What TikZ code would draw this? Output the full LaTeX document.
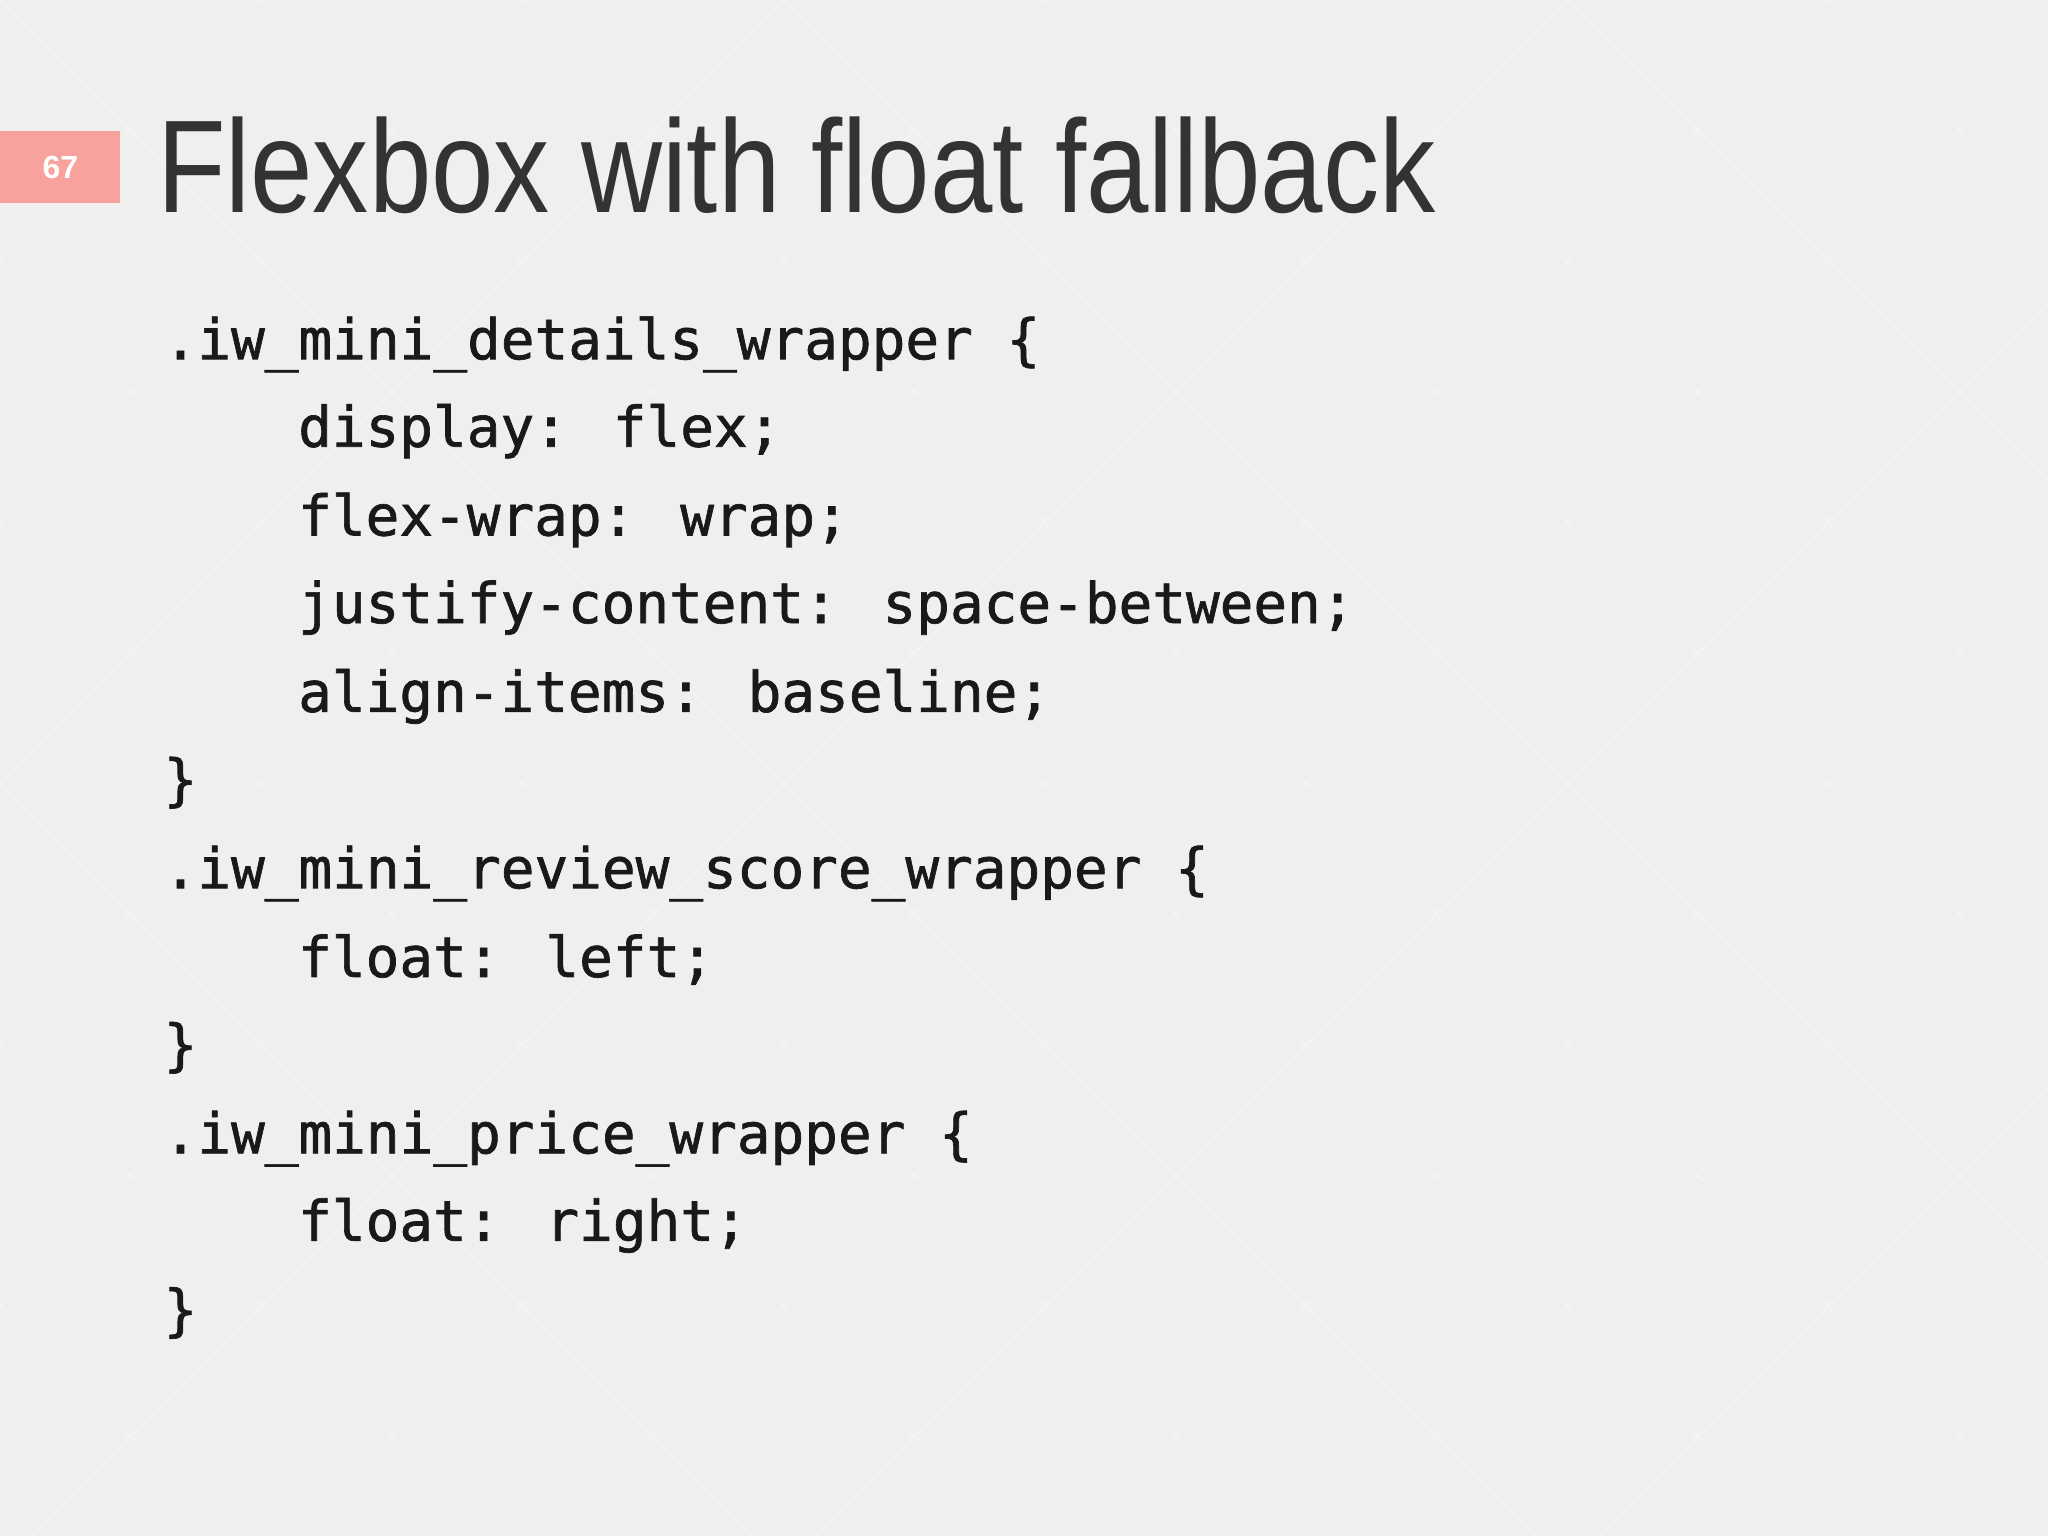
\documentclass[tikz,border=0pt]{standalone}
\usepackage{fontspec}
\setmainfont{Liberation Sans}
\newfontfamily\titlefont[FakeStretch=0.85]{Liberation Sans}
\newfontfamily\codefont[FakeBold=1.2]{DejaVu Sans Mono}
\definecolor{bgc}{HTML}{F0EFF0}
\definecolor{badge}{HTML}{F7A29C}
\definecolor{txt}{HTML}{333333}
\tikzset{code/.style={anchor=base west,inner sep=0pt,font=\codefont\fontsize{28}{28}\selectfont,text=black!90}}
\begin{document}
\begin{tikzpicture}[x=0.653pt,y=-0.653pt]
\fill[bgc] (0,0) rectangle (1568,1176);
\useasboundingbox (0,0) rectangle (1568,1176);
\foreach \i in {-6,...,12}{
  \draw[white,opacity=0.2,line width=1.5pt] (\i*200,0) -- ++(1176,1176);
  \draw[white,opacity=0.2,line width=1.5pt] (\i*200+400,0) -- ++(-1176,1176);
}
\node[fill=badge,minimum width=60pt,minimum height=36pt,inner sep=0pt,anchor=north west,text=white,font=\bfseries\fontsize{16}{16}\selectfont] (badge) at (0,100) {67};
\node[anchor=base west,inner sep=0pt,text=txt,font=\titlefont\fontsize{66}{66}\selectfont] (title) at (120,163) {Flexbox with float fallback};
\node[code] (l1) at (125,275) {.iw\_mini\_details\_wrapper \{};
\node[code] (l2) at (228,342) {display: flex;};
\node[code] (l3) at (228,410) {flex-wrap: wrap;};
\node[code] (l4) at (228,477) {justify-content: space-between;};
\node[code] (l5) at (228,545) {align-items: baseline;};
\node[code] (l6) at (125,612) {\}};
\node[code] (l7) at (125,680) {.iw\_mini\_review\_score\_wrapper \{};
\node[code] (l8) at (228,748) {float: left;};
\node[code] (l9) at (125,815) {\}};
\node[code] (l10) at (125,883) {.iw\_mini\_price\_wrapper \{};
\node[code] (l11) at (228,950) {float: right;};
\node[code] (l12) at (125,1018) {\}};
\end{tikzpicture}
\end{document}
